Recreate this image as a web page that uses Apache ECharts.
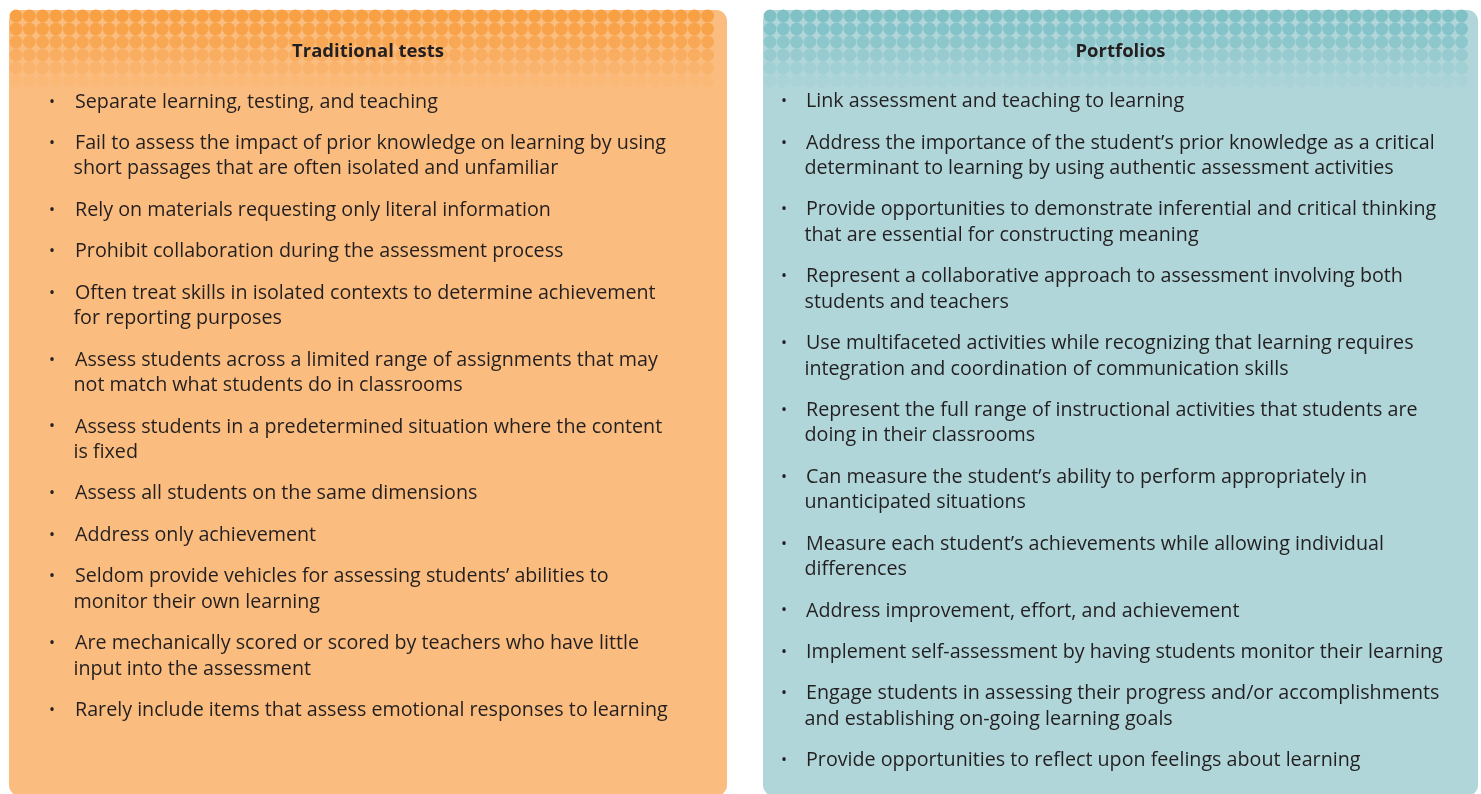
<!DOCTYPE html>
<html><head><meta charset="utf-8">
<script src="https://cdn.jsdelivr.net/npm/echarts@6/dist/echarts.min.js"></script>
<style>html,body{margin:0;padding:0;background:#fff}#c{width:1481px;height:794px}</style>
</head><body><div id="c"></div>
<script>
const leftTitle = 'Traditional tests';
const rightTitle = 'Portfolios';
const leftItems = [
  ['Separate learning, testing, and teaching'],
  ['Fail to assess the impact of prior knowledge on learning by using', 'short passages that are often isolated and unfamiliar'],
  ['Rely on materials requesting only literal information'],
  ['Prohibit collaboration during the assessment process'],
  ['Often treat skills in isolated contexts to determine achievement', 'for reporting purposes'],
  ['Assess students across a limited range of assignments that may', 'not match what students do in classrooms'],
  ['Assess students in a predetermined situation where the content', 'is fixed'],
  ['Assess all students on the same dimensions'],
  ['Address only achievement'],
  ['Seldom provide vehicles for assessing students\u2019 abilities to', 'monitor their own learning'],
  ['Are mechanically scored or scored by teachers who have little', 'input into the assessment'],
  ['Rarely include items that assess emotional responses to learning']
];
const rightItems = [
  ['Link assessment and teaching to learning'],
  ['Address the importance of the student\u2019s prior knowledge as a critical', 'determinant to learning by using authentic assessment activities'],
  ['Provide opportunities to demonstrate inferential and critical thinking', 'that are essential for constructing meaning'],
  ['Represent a collaborative approach to assessment involving both', 'students and teachers'],
  ['Use multifaceted activities while recognizing that learning requires', 'integration and coordination of communication skills'],
  ['Represent the full range of instructional activities that students are', 'doing in their classrooms'],
  ['Can measure the student\u2019s ability to perform appropriately in', 'unanticipated situations'],
  ['Measure each student\u2019s achievements while allowing individual', 'differences'],
  ['Address improvement, effort, and achievement'],
  ['Implement self-assessment by having students monitor their learning'],
  ['Engage students in assessing their progress and/or accomplishments', 'and establishing on-going learning goals'],
  ['Provide opportunities to reflect upon feelings about learning']
];

const FONT = 'Open Sans';
const FS = 19.7;
const LINE = 25.4;
const GAP = 16.05;

function panel(x, w, bg, dot, title, items, bx, tx, y0) {
  const els = [];
  els.push({type:'rect', shape:{x:x, y:10, width:w, height:786, r:11}, style:{fill:bg}});
  const rowsOp = [1, 0.9, 0.72, 0.52, 0.32, 0.13];
  const step = 13.3;
  const ncol = Math.floor((w - 6) / step);
  const x0 = x + 7;
  for (let r = 0; r < rowsOp.length; r++) {
    for (let c = 0; c < ncol; c++) {
      els.push({type:'circle', shape:{cx:x0 + c*step, cy:16 + r*13, r:6.4},
        style:{fill:dot, opacity:rowsOp[r]}});
    }
  }
  els.push({type:'text', x:x + w/2, y:52, style:{text:title, fontFamily:FONT, fontSize:18.5, fontWeight:'bold',
    fill:'#231f20', align:'center', verticalAlign:'middle'}});
  let y = y0;
  items.forEach(lines => {
    els.push({type:'text', x:x + bx, y:y, style:{text:'\u2022', fontFamily:FONT, fontSize:16, fill:'#231f20', align:'center', verticalAlign:'middle'}});
    lines.forEach((ln, i) => {
      els.push({type:'text', x:x + tx + (i ? -1.5 : 0), y:y + i*LINE, style:{text:ln, fontFamily:FONT, fontSize:FS,
        fill:'#231f20', align:'left', verticalAlign:'middle'}});
    });
    y += lines.length*LINE + GAP;
  });
  return els;
}

const chart = echarts.init(document.getElementById('c'), null, {renderer:'canvas'});
chart.setOption({
  animation:false,
  graphic:[].concat(
    panel(9, 718, '#fbbd7f', '#f7a044', leftTitle, leftItems, 43, 66, 102),
    panel(763, 715, '#b0d6da', '#80c1c6', rightTitle, rightItems, 21, 43, 101.5)
  )
});
</script></body></html>
